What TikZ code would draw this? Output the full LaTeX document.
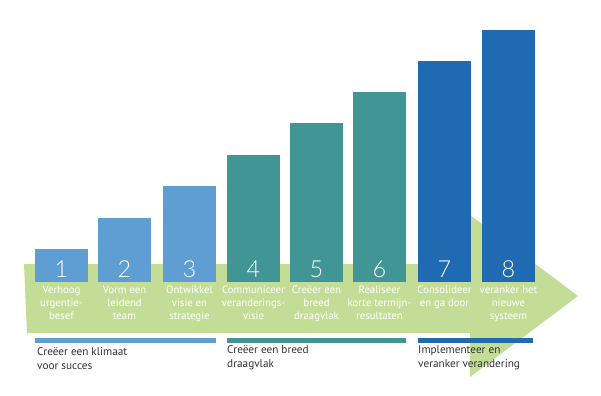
\documentclass[tikz,border=0pt]{standalone}
\usepackage{fontspec}
\setmainfont{PT Sans}
\setsansfont{PT Sans}
\newfontfamily\thinfont{Lato Light}
\definecolor{arrowgreen}{HTML}{C3DD97}
\definecolor{lightblue}{HTML}{5E9ED3}
\definecolor{teal}{HTML}{419595}
\definecolor{darkblue}{HTML}{1F6AB0}
\definecolor{phasegray}{HTML}{333333}
\tikzset{
  stepnum/.style={text=white, anchor=base, inner sep=0pt, font=\thinfont\fontsize{20}{20}\selectfont},
  steptext/.style={text=white, anchor=north, align=center, inner sep=0pt, font=\fontsize{9.2}{11}\selectfont},
  phasetext/.style={text=phasegray, anchor=north west, align=left, inner sep=0pt, font=\fontsize{9.6}{12}\selectfont}
}
\begin{document}
\begin{tikzpicture}[x=0.03cm, y=-0.03cm, line join=round]
	\useasboundingbox[fill=white] (0,0) rectangle (601,395);
	% green arrow
	\fill[arrowgreen] (24,264) -- (470,264) -- (470,215) -- (578,296) -- (470,377) -- (470,333) -- (27,333) -- cycle;
	% bars, numbers and step texts
	\foreach \n/\x/\t/\c/\txt in {
		1/35/249/lightblue/{Verhoog\\urgentie-\\besef},
		2/98/218/lightblue/{Vorm een\\leidend\\team},
		3/163/186/lightblue/{Ontwikkel\\visie en\\strategie},
		4/227/155/teal/{Communiceer\\veranderings-\\visie},
		5/290/123/teal/{Creëer een\\breed\\draagvlak},
		6/353/92/teal/{Realiseer\\korte termijn-\\resultaten},
		7/418/61/darkblue/{Consolideer\\en ga door},
		8/482/30/darkblue/{veranker het\\nieuwe\\systeem}}
	{
		\fill[\c] (\x,\t) rectangle ++(53,282-\t);
		\node[stepnum] (num\n) at (\x+26.5,277) {\n};
		\node[steptext] (txt\n) at (\x+26.5,286) {\txt};
	}
	% phases
	\fill[lightblue] (35,338) rectangle (216,343);
	\fill[teal] (227,338) rectangle (406,343);
	\fill[darkblue] (418,338) rectangle (533,343);
	\node[phasetext] (phase1) at (37,347) {Creëer een klimaat\\voor succes};
	\node[phasetext] (phase2) at (227,345) {Creëer een breed\\draagvlak};
	\node[phasetext] (phase3) at (418,345) {Implementeer en\\veranker verandering};
\end{tikzpicture}
\end{document}
